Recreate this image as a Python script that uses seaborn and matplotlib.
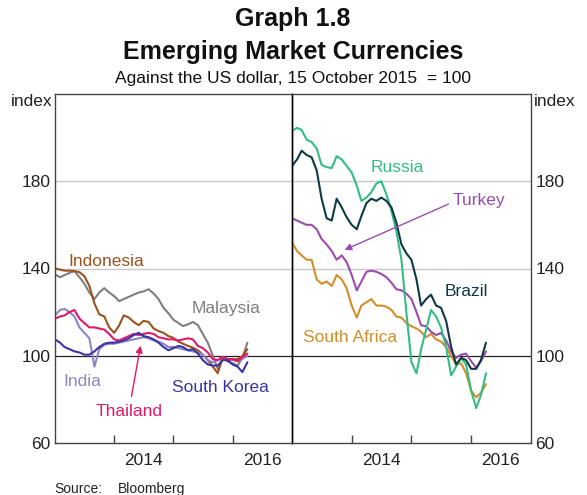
import matplotlib
matplotlib.use("Agg")
import matplotlib.pyplot as plt
import seaborn as sns
import pandas as pd

dates = pd.date_range("2013-01-01", "2016-04-01", freq="MS")

indonesia = [140, 139.5, 139, 139, 138.8, 138.3, 136.5, 132, 124, 119, 118, 113, 110.5, 114, 118.5,
             117.5, 115.5, 114, 116, 115.5, 112.5, 111.3, 110.5, 109, 108.2, 106.5, 105.5, 104.5, 103.7,
             102.5, 100.5, 98, 95, 92, 99, 97.5, 98.3, 98.5, 99.8, 103]
malaysia = [137.3, 136, 137, 138, 138.8, 136, 133, 129, 126, 129, 131, 129, 127.3, 125, 126, 127, 128,
            129, 129.5, 130.5, 128.5, 126, 122, 119.5, 116.5, 115, 113.6, 114.4, 115.5, 114, 110, 106,
            100, 94, 99, 97.5, 96.5, 95.5, 99, 106]
india = [118.5, 121, 121.5, 120, 118, 113, 110.5, 108, 95, 103, 105, 105.5, 105.5, 106, 106.5, 107, 107.5,
         108, 108.5, 108, 107, 106.5, 105.5, 104, 104, 103.5, 103, 102.5, 102, 101.5, 100.5, 98, 97, 98,
         99.5, 98.5, 98, 97.5, 98.5, 100]
thailand = [117, 118, 118.5, 120, 121, 117, 115, 113, 113, 112.5, 112, 110, 107.5, 107, 108, 109, 110,
            109.5, 110, 110.5, 110, 108.5, 108, 107.5, 107.5, 107, 107.5, 108, 107.5, 104.5, 103.5, 101.5,
            98.5, 98, 99.5, 98.5, 98.5, 97.5, 99.5, 101]
south_korea = [107.5, 106, 104, 103, 102, 101.5, 100.5, 100.5, 102, 104, 105.5, 106, 106, 106.5, 107, 108,
               109.5, 110.5, 109, 108.5, 107.5, 106, 104, 102.5, 103.5, 104.5, 104, 102.5, 103, 101, 98,
               96, 95.5, 95.5, 98, 98, 96, 95, 92.5, 97]

russia = [203, 204.5, 203.5, 199, 198, 195, 187.5, 186.5, 186, 191.5, 190, 187, 184, 178, 171, 172.5, 175,
          179, 180, 174, 166.5, 157, 144, 120, 97, 92, 103, 112, 121, 118, 113, 104, 91, 95, 99, 96, 84,
          76, 82, 92]
brazil = [187, 190, 194, 192, 191, 185, 172, 163, 162, 172, 168, 163.5, 160, 158, 164, 170, 172, 171, 172.5,
          171, 168, 161, 151, 147, 144, 135, 123, 126, 128, 123, 122, 116, 104, 96, 99, 98, 94, 94, 98, 106]
turkey = [163, 162, 161, 160, 160, 158, 153.5, 151, 148, 144, 146, 143, 137, 130, 134, 138.5, 139, 138.5,
          137.5, 136, 133.5, 130.5, 130, 128.5, 126, 120, 114, 113.5, 111, 109.5, 110.5, 107, 102, 99,
          100.5, 101, 97.5, 94.5, 97.5, 102]
south_africa = [152, 148, 146, 144, 144, 135, 133, 134, 132, 137, 135, 131, 123, 117.5, 123, 124.5, 126,
                123, 123, 122.5, 121, 118, 117.5, 115, 113.5, 112.5, 111, 108.5, 110, 107.5, 106.5, 104,
                100, 96, 96.5, 92, 84, 81, 83, 87]

y_ticks = [60, 100, 140, 180]
year_ticks = ["2014-01-01", "2015-01-01", "2016-01-01"]
year_labels = ["2014", "2016"]
year_label_pos = ["2014-07-01", "2016-07-01"]

colors = {"Indonesia": "#9a521f", "Malaysia": "#7f7f7f", "India": "#8f84c8", "Thailand": "#e0196a",
          "South Korea": "#3b35a3", "South Africa": "#d38e2a", "Turkey": "#9a4dab", "Brazil": "#0d3a46",
          "Russia": "#33bd85"}
left_series = [("Malaysia", malaysia), ("Indonesia", indonesia), ("India", india),
               ("Thailand", thailand), ("South Korea", south_korea)]
right_series = [("South Africa", south_africa), ("Turkey", turkey), ("Russia", russia), ("Brazil", brazil)]

sns.set_theme(style="white")
plt.rcParams["font.family"] = ["Liberation Sans", "DejaVu Sans"]

W, H = 587, 495
fig = plt.figure(figsize=(W / 100, H / 100), dpi=100)
ax1 = fig.add_axes([55 / W, 1 - 443 / H, 237 / W, 349 / H])
ax2 = fig.add_axes([292 / W, 1 - 443 / H, 239 / W, 349 / H])

for ax, series in [(ax1, left_series), (ax2, right_series)]:
    for name, vals in series:
        sns.lineplot(x=dates, y=vals, ax=ax, color=colors[name], linewidth=1.5)
    ax.set_xlim(pd.Timestamp("2013-01-01"), pd.Timestamp("2017-01-01"))
    ax.set_ylim(60, 220)
    for yv in [140, 180]:
        ax.axhline(yv, color="#c8c8c8", linewidth=1.0, zorder=0)
    ax.axhline(100, color="#222222", linewidth=0.9, zorder=1)
    ax.set_xticks(pd.to_datetime(year_ticks))
    ax.set_xticklabels([])
    ax.set_xticks(pd.to_datetime(year_label_pos), minor=True)
    ax.set_xticklabels(year_labels, minor=True)
    ax.tick_params(axis="x", which="major", direction="in", length=6, width=1, color="#444444", bottom=True)
    ax.tick_params(axis="x", which="minor", length=0, labelsize=12.5, pad=7, colors="#222222", bottom=True)
    ax.set_yticks(y_ticks)
    ax.set_xlabel("")
    ax.set_ylabel("")
    ax.patch.set_alpha(0)
    for s in ax.spines.values():
        s.set_color("#444444")
        s.set_linewidth(1.0)

ax1.tick_params(axis="y", length=0, labelsize=12.5, pad=3, colors="#222222", left=True, labelleft=True)
ax2.yaxis.tick_right()
ax2.tick_params(axis="y", length=0, labelsize=12.5, pad=3, colors="#222222", right=True, labelright=True)
ax1.spines["right"].set_color("black")
ax2.spines["left"].set_color("black")


def px(x, y):
    return x / W, 1 - y / H


# series labels (pixel centres)
label_pos = {"Indonesia": (106, 261), "Malaysia": (226, 308), "India": (82, 381), "Thailand": (129, 411),
             "South Korea": (220, 388), "Russia": (397, 167), "Turkey": (479, 201), "Brazil": (466, 292),
             "South Africa": (350, 338)}
for name, (x, y) in label_pos.items():
    fig.text(*px(x, y), name, color=colors[name], ha="center", va="center", fontsize=12.5)

for (x0, y0, x1, y1, name) in [(131, 399, 141, 343, "Thailand"), (451, 203, 342, 251, "Turkey")]:
    fig.add_artist(matplotlib.patches.FancyArrowPatch(px(x0, y0), px(x1, y1), transform=fig.transFigure,
                                                      arrowstyle="-|>", mutation_scale=10,
                                                      color=colors[name], lw=1.0))

# titles
fig.text(*px(293, 19), "Graph 1.8", ha="center", va="center", fontsize=18, fontweight="bold", color="#111111")
fig.text(*px(293, 52), "Emerging Market Currencies", ha="center", va="center", fontsize=18,
         fontweight="bold", color="#111111")
fig.text(*px(293, 78), "Against the US dollar, 15 October 2015  = 100", ha="center", va="center",
         fontsize=12.5, color="#111111")
fig.text(*px(52, 101), "index", ha="right", va="center", fontsize=12.5, color="#222222")
fig.text(*px(534, 101), "index", ha="left", va="center", fontsize=12.5, color="#222222")
fig.text(*px(54, 489), "Source:", ha="left", va="center", fontsize=10, color="#222222")
fig.text(*px(118, 489), "Bloomberg", ha="left", va="center", fontsize=10, color="#222222")

fig.savefig("out.png", dpi=100)
